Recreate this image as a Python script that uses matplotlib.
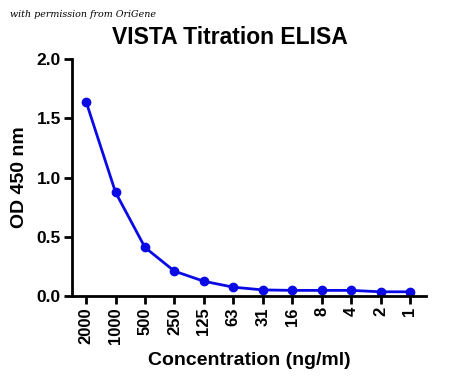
import matplotlib.pyplot as plt
import numpy as np

# Data
concentrations = ['2000', '1000', '500', '250', '125', '63', '31', '16', '8', '4', '2', '1']
od450 = [1.64, 0.875, 0.41, 0.21, 0.125, 0.075, 0.052, 0.048, 0.048, 0.048, 0.036, 0.036]

plt.rcParams['font.family'] = ['Liberation Sans', 'DejaVu Sans']

fig = plt.figure(figsize=(4.5, 3.84), dpi=100)
ax = fig.add_axes([0.16, 0.229, 0.787, 0.617])

x = np.arange(len(concentrations))
ax.plot(x, od450, color='#0a0ae6', linewidth=2, marker='o', markersize=6)

ax.set_xlim(-0.48, 11.55)
ax.set_ylim(0, 2.0)
ax.set_yticks([0, 0.5, 1.0, 1.5, 2.0])
ax.set_yticklabels(['0.0', '0.5', '1.0', '1.5', '2.0'], fontweight='bold', fontsize=12.5)
ax.set_xticks(x)
ax.set_xticklabels(concentrations, rotation=90, fontweight='bold', fontsize=12)

for side in ['top', 'right']:
    ax.spines[side].set_visible(False)
for side in ['left', 'bottom']:
    ax.spines[side].set_linewidth(2)
ax.tick_params(direction='out', length=6, width=2, pad=2)

ax.set_ylabel('OD 450 nm', fontweight='bold', fontsize=14, labelpad=6)
ax.set_xlabel('Concentration (ng/ml)', fontweight='bold', fontsize=14, labelpad=6)

fig.text(230 / 450, 1 - 38 / 384, 'VISTA Titration ELISA', fontweight='bold',
         fontsize=16.5, ha='center', va='center')

fig.text(0.022, 0.955, 'with permission from OriGene', fontstyle='italic',
         fontsize=6.8, family='DejaVu Serif')

plt.savefig('out.png', dpi=100)
